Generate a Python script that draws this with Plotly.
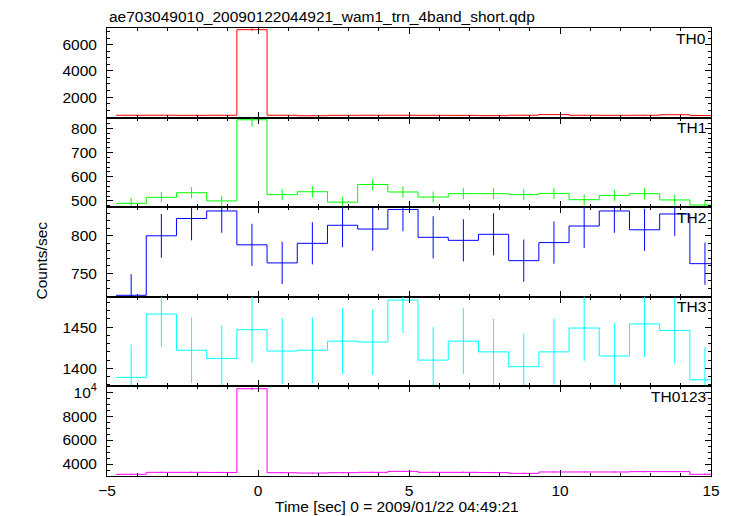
import numpy as np
import plotly.graph_objects as go
from plotly.subplots import make_subplots

# ---- data ----
time = [-4.2, -3.2, -2.2, -1.2, -0.2, 0.8, 1.8, 2.8, 3.8, 4.8,
        5.8, 6.8, 7.8, 8.8, 9.8, 10.8, 11.8, 12.8, 13.8, 14.8]

th0 = [610, 615, 605, 610, 7150, 610, 575, 605, 610, 610,
       605, 600, 580, 615, 660, 610, 605, 610, 650, 590]
th0_err = [25, 25, 25, 25, 85, 25, 24, 25, 25, 25,
           25, 24, 24, 25, 26, 25, 25, 25, 25, 24]

th1 = [490, 515, 534, 500, 836, 526, 538, 495, 568, 537,
       516, 530, 530, 526, 531, 505, 523, 530, 504, 483]
th1_err = [22, 22, 23, 22, 29, 23, 23, 22, 24, 23,
           23, 23, 23, 23, 23, 22, 23, 23, 22, 22]

th2 = [721, 800, 823, 833, 788, 764, 790, 814, 809, 835,
       798, 794, 802, 767, 791, 813, 833, 808, 829, 763]
th2_err = [28, 29, 29, 29, 28, 28, 28, 29, 29, 29,
           28, 28, 28, 28, 28, 29, 29, 28, 29, 28]

th3 = [1389, 1466, 1422, 1412, 1447, 1421, 1422, 1433, 1432, 1483,
       1410, 1433, 1420, 1402, 1420, 1449, 1415, 1454, 1446, 1386]
th3_err = [40, 40, 40, 40, 40, 40, 40, 40, 40, 40,
           40, 40, 40, 40, 40, 40, 40, 40, 40, 40]

th0123 = [3145, 3310, 3310, 3300, 10280, 3280, 3250, 3280, 3310, 3390,
          3310, 3310, 3290, 3225, 3340, 3340, 3340, 3367, 3367, 3145]
th0123_err = [56, 58, 58, 58, 101, 57, 57, 57, 58, 58,
              58, 58, 57, 57, 58, 58, 58, 58, 58, 56]

panel_names = ["TH0", "TH1", "TH2", "TH3", "TH0123"]
x_ticks = [-5, 0, 5, 10, 15]
th0123_tickvals = [4000, 6000, 8000, 10000]
th0123_ticktext = ["4000", "6000", "8000", "10<sup>4</sup>"]

title_text = "ae703049010_20090122044921_wam1_trn_4band_short.qdp"
xlabel = "Time [sec] 0 = 2009/01/22 04:49:21"
ylabel = "Counts/sec"

# ---- figure ----
FONT = "Liberation Sans, Arial, Helvetica, sans-serif"
FS = 15.5
panels = [
    (th0, th0_err, "#ff0000", [431, 7277], 2000, 500),
    (th1, th1_err, "#00ff00", [474, 845], 100, 20),
    (th2, th2_err, "#0000ff", [719, 838], 50, 10),
    (th3, th3_err, "#00ffff", [1378, 1487], 50, 10),
    (th0123, th0123_err, "#ff00ff", [3004, 10473], 2000, 500),
]

fig = make_subplots(rows=5, cols=1, shared_xaxes=True, vertical_spacing=0)

half = 0.5
t = np.array(time)
step_x = list(t - half) + [t[-1] + half]

axis_common = dict(
    showline=True, linecolor="black", linewidth=1, mirror="ticks",
    ticks="inside", ticklen=6, tickwidth=1, tickcolor="black",
    showgrid=False, zeroline=False, automargin=False,
    tickfont=dict(family=FONT, size=FS, color="black"),
)

for i, (vals, errs, col, rng, dt, mdt) in enumerate(panels):
    r = i + 1
    fig.add_trace(go.Scatter(
        x=step_x, y=list(vals) + [vals[-1]], mode="lines",
        line=dict(color=col, width=1, shape="hv"),
        showlegend=False, hoverinfo="skip"), row=r, col=1)
    fig.add_trace(go.Scatter(
        x=time, y=vals, mode="markers",
        marker=dict(size=1, color="rgba(0,0,0,0)"),
        error_y=dict(type="data", array=errs, width=0, thickness=1, color=col),
        showlegend=False), row=r, col=1)
    yopts = dict(axis_common)
    yopts.update(range=rng, ticklabelstandoff=6,
                 minor=dict(ticks="inside", ticklen=3, tickwidth=1,
                            tickcolor="black", dtick=mdt, tick0=0, tickmode="linear"))
    if r == 5:
        yopts.update(tickmode="array", tickvals=th0123_tickvals, ticktext=th0123_ticktext)
    else:
        yopts.update(dtick=dt, tick0=0)
    fig.update_yaxes(row=r, col=1, **yopts)
    xopts = dict(axis_common)
    xopts.update(range=[-5, 15], tickmode="array", tickvals=x_ticks,
                 minor=dict(ticks="inside", ticklen=3, tickwidth=1,
                            tickcolor="black", dtick=1, tick0=0, tickmode="linear"))
    fig.update_xaxes(row=r, col=1, **xopts)
    xr = "x domain" if r == 1 else f"x{r} domain"
    yr = "y domain" if r == 1 else f"y{r} domain"
    fig.add_annotation(text=panel_names[i], xref=xr, yref=yr, x=1, y=1,
                       xanchor="right", yanchor="middle", xshift=-3, yshift=-10,
                       showarrow=False,
                       font=dict(family=FONT, size=FS, color="black"))

fig.update_xaxes(row=5, col=1, showticklabels=True, ticklabelstandoff=0)

fig.add_annotation(text=title_text, xref="paper", yref="paper", x=0, y=1.0263,
                   xanchor="left", yanchor="middle", showarrow=False,
                   font=dict(family=FONT, size=FS, color="black"))
fig.add_annotation(text=xlabel, xref="paper", yref="paper", x=0.4804, y=-0.068,
                   xanchor="center", yanchor="middle", showarrow=False,
                   font=dict(family=FONT, size=FS, color="black"))
fig.add_annotation(text=ylabel, xref="paper", yref="paper", x=-0.1087, y=0.4818,
                   xanchor="center", yanchor="middle", textangle=-90, showarrow=False,
                   font=dict(family=FONT, size=FS, color="black"))

# the page body adds an 8px margin, so the figure is sized to end at the window edge
fig.update_layout(
    template="none",
    width=725, height=508, autosize=False,
    margin=dict(l=99, r=22, t=20, b=40, pad=0),
    paper_bgcolor="white", plot_bgcolor="white",
    font=dict(family=FONT, size=FS, color="black"),
    showlegend=False,
)

fig.write_html("out.html")
